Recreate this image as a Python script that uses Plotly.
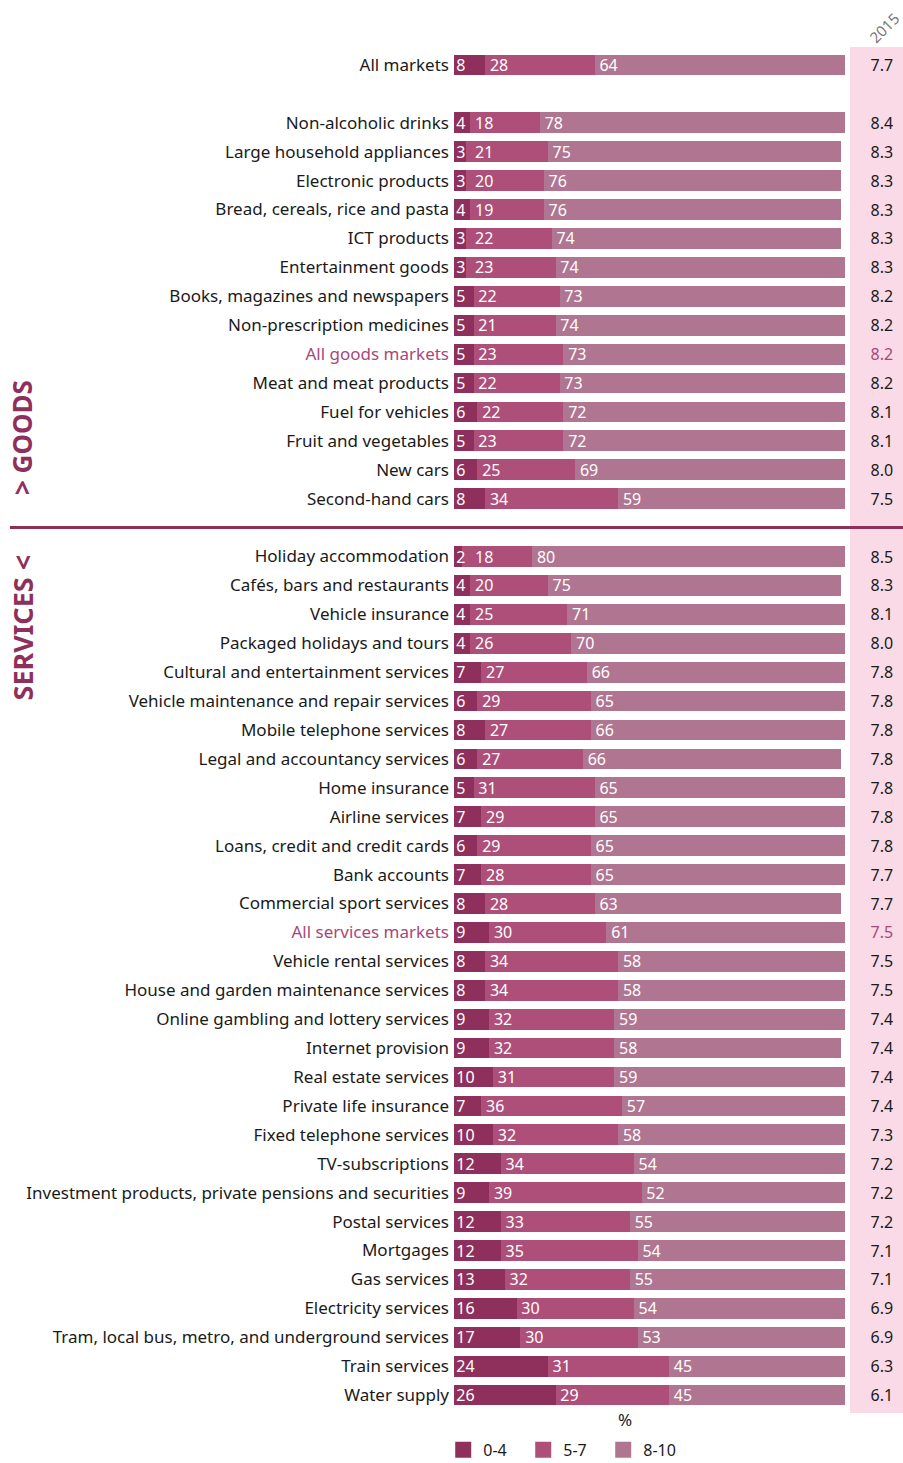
import plotly.graph_objects as go

# ---------------- data ----------------
overall_label = ["All markets"]
overall_low = [8]
overall_mid = [28]
overall_high = [64]
overall_score = [7.7]

goods_labels = ["Non-alcoholic drinks", "Large household appliances", "Electronic products",
                "Bread, cereals, rice and pasta", "ICT products", "Entertainment goods",
                "Books, magazines and newspapers", "Non-prescription medicines", "All goods markets",
                "Meat and meat products", "Fuel for vehicles", "Fruit and vegetables",
                "New cars", "Second-hand cars"]
goods_low = [4, 3, 3, 4, 3, 3, 5, 5, 5, 5, 6, 5, 6, 8]
goods_mid = [18, 21, 20, 19, 22, 23, 22, 21, 23, 22, 22, 23, 25, 34]
goods_high = [78, 75, 76, 76, 74, 74, 73, 74, 73, 73, 72, 72, 69, 59]
goods_score = [8.4, 8.3, 8.3, 8.3, 8.3, 8.3, 8.2, 8.2, 8.2, 8.2, 8.1, 8.1, 8.0, 7.5]

services_labels = ["Holiday accommodation", "Cafés, bars and restaurants", "Vehicle insurance",
                   "Packaged holidays and tours", "Cultural and entertainment services",
                   "Vehicle maintenance and repair services", "Mobile telephone services",
                   "Legal and accountancy services", "Home insurance", "Airline services",
                   "Loans, credit and credit cards", "Bank accounts", "Commercial sport services",
                   "All services markets", "Vehicle rental services",
                   "House and garden maintenance services", "Online gambling and lottery services",
                   "Internet provision", "Real estate services", "Private life insurance",
                   "Fixed telephone services", "TV-subscriptions",
                   "Investment products, private pensions and securities", "Postal services",
                   "Mortgages", "Gas services", "Electricity services",
                   "Tram, local bus, metro, and underground services", "Train services",
                   "Water supply"]
services_low = [2, 4, 4, 4, 7, 6, 8, 6, 5, 7, 6, 7, 8, 9, 8, 8, 9, 9, 10, 7, 10, 12, 9, 12, 12, 13, 16, 17, 24, 26]
services_mid = [18, 20, 25, 26, 27, 29, 27, 27, 31, 29, 29, 28, 28, 30, 34, 34, 32, 32, 31, 36, 32, 34, 39, 33, 35, 32, 30, 30, 31, 29]
services_high = [80, 75, 71, 70, 66, 65, 66, 66, 65, 65, 65, 65, 63, 61, 58, 58, 59, 58, 59, 57, 58, 54, 52, 55, 54, 55, 54, 53, 45, 45]
services_score = [8.5, 8.3, 8.1, 8.0, 7.8, 7.8, 7.8, 7.8, 7.8, 7.8, 7.8, 7.7, 7.7, 7.5, 7.5, 7.5, 7.4, 7.4, 7.4, 7.4, 7.3, 7.2, 7.2, 7.2, 7.1, 7.1, 6.9, 6.9, 6.3, 6.1]

highlight_labels = ["All goods markets", "All services markets"]
series_names = ["0-4", "5-7", "8-10"]
year_label = "2015"

# ---------------- styling ----------------
C_LOW = "#8E2F5C"
C_MID = "#AD4F78"
C_HIGH = "#B07590"
C_HL = "#A8487A"
C_PANEL = "#F9DAE6"
C_TEXT = "#1a1a1a"
FONT = "Noto Sans"

# rows: overall, blank, goods, blank, services
labels = overall_label + [None] + goods_labels + [None] + services_labels
low = overall_low + [None] + goods_low + [None] + services_low
mid = overall_mid + [None] + goods_mid + [None] + services_mid
high = overall_high + [None] + goods_high + [None] + services_high
score = overall_score + [None] + goods_score + [None] + services_score

rows = [i for i, l in enumerate(labels) if l is not None]
row_labels = [labels[i] for i in rows]
divider_row = len(overall_label) + 1 + len(goods_labels)

v_low = [low[i] for i in rows]
v_mid = [mid[i] for i in rows]
v_high = [high[i] for i in rows]

TEXT_DY = 0.07  # small downward nudge (row units) so text sits centred on bars

fig = go.Figure()
for name, v, col in zip(series_names, [v_low, v_mid, v_high], [C_LOW, C_MID, C_HIGH]):
    fig.add_trace(go.Bar(
        x=v, y=rows, orientation="h", name=name, showlegend=False,
        marker=dict(color=col, line=dict(width=0)),
        width=0.72, hoverinfo="skip",
    ))
    fig.add_trace(go.Scatter(
        x=[None], y=[None], mode="markers", name=name,
        marker=dict(symbol="square", size=18, color=col),
        showlegend=True, hoverinfo="skip",
    ))

# segment labels, drawn on top of all bars (left-aligned at each segment start)
PAD = 0.6  # in % units
MIN_MID = 5.4
lab_x, lab_y, lab_t = [], [], []
for r, a, b, c in zip(rows, v_low, v_mid, v_high):
    lab_x += [PAD, max(a + PAD + 0.6, MIN_MID), a + b + PAD + 0.6]
    lab_y += [r + TEXT_DY] * 3
    lab_t += [str(a), str(b), str(c)]
fig.add_trace(go.Scatter(
    x=lab_x, y=lab_y, text=lab_t, mode="text", textposition="middle right",
    textfont=dict(color="white", size=16, family=FONT),
    showlegend=False, hoverinfo="skip", cliponaxis=False,
))

score_vals = [score[i] for i in rows]
score_colors = [C_HL if l in highlight_labels else C_TEXT for l in row_labels]
fig.add_trace(go.Scatter(
    x=[0.6] * len(rows), y=[r + TEXT_DY for r in rows], mode="text",
    text=[f"{s:.1f}" for s in score_vals],
    textfont=dict(color=score_colors, size=16, family=FONT),
    xaxis="x2", yaxis="y", showlegend=False, hoverinfo="skip",
))

ticktext = [f"<span style='color:{C_HL}'>{l}</span>" if l in highlight_labels else l
            for l in row_labels]

n_rows = len(labels)
fig.update_layout(
    width=903, height=1463,
    margin=dict(l=454, r=0, t=47, b=50, autoexpand=False),
    paper_bgcolor="white", plot_bgcolor="white",
    barmode="stack", bargap=0,
    font=dict(family=FONT, size=16, color=C_TEXT),
    xaxis=dict(domain=[0, 0.8708], range=[0, 100], visible=False, fixedrange=True),
    xaxis2=dict(domain=[0.882, 1], range=[0, 1], visible=False, anchor="y"),
    yaxis=dict(range=[n_rows - 1 + 0.62, -0.62], tickvals=rows, ticktext=ticktext,
               showgrid=False, zeroline=False, ticks="", showline=False, automargin=False,
               tickfont=dict(size=17, color=C_TEXT, family=FONT), ticklabelstandoff=4),
    legend=dict(orientation="h", x=-0.024, xanchor="left", y=-0.027, yanchor="middle",
                font=dict(size=16, family=FONT), itemsizing="trace", entrywidth=35,
                entrywidthmode="pixels", traceorder="normal", itemwidth=30),
    showlegend=True,
)

fig.add_shape(type="rect", xref="paper", yref="y", x0=0.882, x1=1.0,
              y0=-0.62, y1=n_rows - 1 + 0.62, fillcolor=C_PANEL, line=dict(width=0),
              layer="below")
fig.add_shape(type="line", xref="paper", yref="y", x0=-0.989, x1=1.0,
              y0=divider_row, y1=divider_row, line=dict(color=C_LOW, width=3))

fig.add_annotation(text=year_label, xref="paper", yref="paper", x=0.957, y=1.014,
                   xanchor="center", yanchor="middle",
                   showarrow=False, textangle=-45, font=dict(size=15, color="#777"))
fig.add_annotation(text="%", xref="paper", yref="paper", x=0.381, y=-0.005,
                   showarrow=False, font=dict(size=17), yanchor="middle", xanchor="center")
fig.add_annotation(text="<b>&gt; GOODS</b>", xref="paper", yref="y", x=-0.962, y=12.9,
                   xanchor="center", yanchor="middle",
                   showarrow=False, textangle=-90, font=dict(size=26, color=C_LOW))
fig.add_annotation(text="<b>SERVICES &lt;</b>", xref="paper", yref="y", x=-0.962, y=19.45,
                   xanchor="center", yanchor="middle",
                   showarrow=False, textangle=-90, font=dict(size=27, color=C_LOW))

fig.write_html("out.html", config={"displayModeBar": False},
               post_script="document.body.style.margin='0px';")
